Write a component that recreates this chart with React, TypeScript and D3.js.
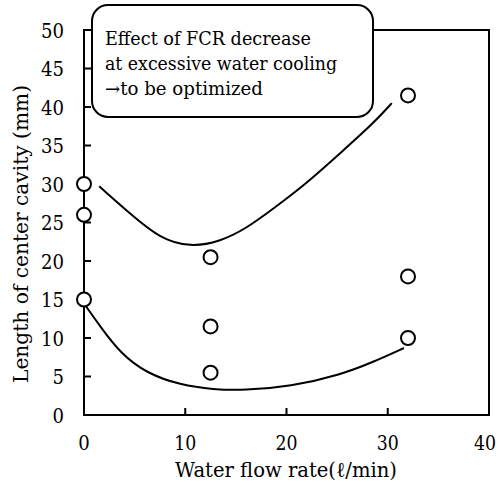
import React from "react";
import * as d3 from "d3";

const xTicks = [0, 10, 20, 30, 40];
const yTicks = [0, 5, 10, 15, 20, 25, 30, 35, 40, 45, 50];

const pointsX = [0, 0, 0, 12.5, 12.5, 12.5, 32, 32, 32];
const pointsY = [30, 26, 15, 20.5, 11.5, 5.5, 41.5, 18, 10];

const upperCurveX = [1.5, 4.5, 7.5, 10.5, 13.4, 16.0, 18.7, 22.0, 25.3, 28.6, 30.4];
const upperCurveY = [29.7, 26.2, 22.9, 21.8, 22.5, 24.2, 26.8, 30.1, 34.0, 37.9, 40.5];

const lowerCurveX = [0.1, 1.6, 3.6, 6.2, 9.5, 12.8, 15.8, 20.4, 25.3, 28.6, 31.6];
const lowerCurveY = [14.3, 11.5, 8.0, 5.4, 3.9, 3.3, 3.2, 3.7, 5.2, 6.9, 8.7];

const noteLines = [
  "Effect of FCR decrease",
  "at excessive water cooling",
  "\u2192to be optimized",
];
const noteWidths = [206, 232, 158];

const xTitle = "Water flow rate(\u2113/min)";
const yTitle = "Length of center cavity (mm)";

export default function App() {
  const W = 501, H = 492;
  const x = d3.scaleLinear().domain([0, 40]).range([84, 489]);
  const y = d3.scaleLinear().domain([0, 50]).range([415, 30]);
  const font = "'DejaVu Serif', 'Liberation Serif', 'Noto Serif', serif";

  const line = d3
    .line<[number, number]>()
    .x((d) => x(d[0]))
    .y((d) => y(d[1]))
    .curve(d3.curveBasis);

  const upper = line(upperCurveX.map((v, i) => [v, upperCurveY[i]] as [number, number])) || "";
  const lower = line(lowerCurveX.map((v, i) => [v, lowerCurveY[i]] as [number, number])) || "";

  const ts = { fontFamily: font };

  return (
    <svg
      width={W}
      height={H}
      style={{ position: "absolute", left: 0, top: 0, background: "#fff" }}
    >
      <rect x={0} y={0} width={W} height={H} fill="#fff" />
      <rect
        x={x(0)}
        y={y(50)}
        width={x(40) - x(0)}
        height={y(0) - y(50)}
        fill="none"
        stroke="#000"
        strokeWidth={2}
      />
      {yTicks.map((t) => (
        <g key={"y" + t}>
          <line x1={x(0)} x2={x(0) + 7} y1={y(t)} y2={y(t)} stroke="#000" strokeWidth={2} />
          <text x={64} y={y(t)} dy="0.36em" textAnchor="end" style={ts} fontSize={21} fill="#000"
            textLength={t >= 10 ? 23 : 11.5} lengthAdjust="spacingAndGlyphs">
            {t}
          </text>
        </g>
      ))}
      {xTicks.map((t) => (
        <g key={"x" + t}>
          <line x1={x(t)} x2={x(t)} y1={y(0)} y2={y(0) - 7} stroke="#000" strokeWidth={2} />
          <text x={Math.min(x(t), 485)} y={450} textAnchor="middle" style={ts} fontSize={21} fill="#000"
            textLength={t >= 10 ? 22 : 11.5} lengthAdjust="spacingAndGlyphs">
            {t}
          </text>
        </g>
      ))}
      <path d={upper} fill="none" stroke="#000" strokeWidth={2} />
      <path d={lower} fill="none" stroke="#000" strokeWidth={2} />
      {pointsX.map((v, i) => (
        <circle
          key={"p" + i}
          cx={x(v)}
          cy={y(pointsY[i])}
          r={7}
          fill="#fff"
          stroke="#000"
          strokeWidth={2}
        />
      ))}
      <rect x={92} y={5} width={281} height={112} rx={16} ry={16} fill="#fff" stroke="#000" strokeWidth={2} />
      {noteLines.map((s, i) => (
        <text key={"n" + i} x={105} y={45 + i * 25} style={ts} fontSize={18} fill="#000"
          textLength={noteWidths[i]} lengthAdjust="spacingAndGlyphs">
          {s}
        </text>
      ))}
      <text x={175} y={477} style={ts} fontSize={21} fill="#000"
        textLength={222} lengthAdjust="spacingAndGlyphs">
        {xTitle}
      </text>
      <text
        transform={`translate(28,383) rotate(-90)`}
        style={ts}
        fontSize={21}
        fill="#000"
        textLength={298}
        lengthAdjust="spacingAndGlyphs"
      >
        {yTitle}
      </text>
    </svg>
  );
}
